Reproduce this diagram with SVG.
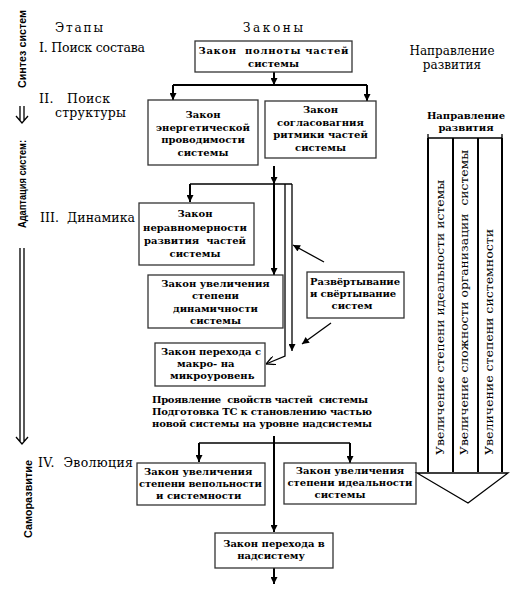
<svg xmlns="http://www.w3.org/2000/svg" width="519" height="590" viewBox="0 0 519 590">
<style>
.box{fill:#fff;stroke:#333;stroke-width:1.3}
.bt{font-family:"DejaVu Serif",serif;font-weight:bold;font-size:10px;text-anchor:middle;fill:#000}
.bs{font-family:"DejaVu Serif",serif;font-weight:bold;font-size:10px;fill:#000}
.st{font-family:"DejaVu Serif",serif;font-size:12.5px;fill:#000}
.hd{font-family:"DejaVu Serif",serif;font-size:12px;fill:#000}
.vs{font-family:"Liberation Sans",Arial,sans-serif;font-weight:bold;font-size:10.5px;fill:#000}
.vt{font-family:"DejaVu Serif",serif;font-size:11.5px;fill:#000}
.c{stroke:#000;stroke-width:2;fill:none}
.t{stroke:#000;stroke-width:1.3;fill:none}
</style>
<defs>
<marker id="ah" viewBox="0 0 10 10" refX="10" refY="5" markerWidth="8" markerHeight="7" markerUnits="userSpaceOnUse" orient="auto"><path d="M0,0 L10,5 L0,10 z" fill="#000"/></marker>
<marker id="oh" viewBox="0 0 10 10" refX="10" refY="5" markerWidth="9" markerHeight="9" markerUnits="userSpaceOnUse" orient="auto"><path d="M0,0 L10,5 L0,10" fill="none" stroke="#000" stroke-width="1.5"/></marker>
</defs>

<g id="side-labels">
<text class="vs" transform="translate(26,88) rotate(-90)" textLength="78" lengthAdjust="spacingAndGlyphs">Синтез систем</text>
<path class="t" d="M20,106 V121 M24,106 V121 M16,116 L22,123 L28,116"/>
<text class="vs" transform="translate(26,228) rotate(-90)" textLength="88" lengthAdjust="spacingAndGlyphs">Адаптация систем:</text>
<path class="t" d="M20,248 V441 M24,248 V441 M16,437 L22,444 L28,437"/>
<text class="vs" transform="translate(32,538) rotate(-90)" textLength="78" lengthAdjust="spacingAndGlyphs">Саморазвитие</text>
</g>

<g id="headers">
<text class="hd" x="55" y="32" textLength="48">Этапы</text>
<text class="hd" x="243" y="32" textLength="60">Законы</text>
<text class="hd" x="452" y="55" text-anchor="middle">Направление</text>
<text class="hd" x="452" y="69" text-anchor="middle">развития</text>
</g>

<g id="stages">
<text class="st" x="39" y="52" textLength="106">I. Поиск состава</text>
<text class="st" x="39" y="103" textLength="71" xml:space="preserve">II.   Поиск</text>
<text class="st" x="55" y="117" textLength="71">структуры</text>
<text class="st" x="40" y="222" textLength="95" xml:space="preserve">III.  Динамика</text>
<text class="st" x="38" y="467" textLength="95" xml:space="preserve">IV.  Эволюция</text>
</g>

<g id="connectors">
<path class="c" d="M274,72 V85" marker-end="url(#ah)"/>
<path class="c" d="M173,85 H367"/>
<path class="c" d="M173,85 V100" marker-end="url(#ah)"/>
<path class="c" d="M367,85 V101" marker-end="url(#ah)"/>
<path class="c" d="M274,166 V184" marker-end="url(#ah)"/>
<path class="t" d="M190,184 H292"/>
<path class="c" d="M190,184 V202" marker-end="url(#ah)"/>
<path class="c" d="M274,184 V275" marker-end="url(#ah)"/>
<path class="t" d="M292,184 V351" marker-end="url(#ah)"/>
<path class="t" d="M285,184 V356 L266,364" marker-end="url(#oh)"/>
<path class="t" d="M324,262 L293,245" marker-end="url(#ah)"/>
<path class="t" d="M331,323 L302,344" marker-end="url(#ah)"/>
<path class="c" d="M274,436 V532" marker-end="url(#ah)"/>
<path class="t" d="M199,443 H350"/>
<path class="c" d="M199,443 V462" marker-end="url(#ah)"/>
<path class="c" d="M350,443 V463" marker-end="url(#ah)"/>
<path class="c" d="M274,568 V584" marker-end="url(#ah)"/>
</g>

<g id="n1">
<rect class="box" x="195" y="41" width="157" height="31"/>
<text class="bt" x="273.5" y="54" textLength="150" xml:space="preserve">Закон  полноты частей</text>
<text class="bt" x="273.5" y="67">системы</text>
</g>
<g id="n2">
<rect class="box" x="148" y="100" width="110" height="65"/>
<text class="bt" x="203" y="118">Закон</text>
<text class="bt" x="203" y="131">энергетической</text>
<text class="bt" x="203" y="143">проводимости</text>
<text class="bt" x="203" y="156">системы</text>
</g>
<g id="n3">
<rect class="box" x="265" y="101" width="111" height="57"/>
<text class="bt" x="320.5" y="113">Закон</text>
<text class="bt" x="320.5" y="126">согласовагния</text>
<text class="bt" x="320.5" y="138">ритмики частей</text>
<text class="bt" x="320.5" y="151">системы</text>
</g>
<g id="n4">
<rect class="box" x="139" y="203" width="115" height="62"/>
<text class="bt" x="195" y="217">Закон</text>
<text class="bt" x="195" y="231">неравномерности</text>
<text class="bt" x="195" y="244" xml:space="preserve">развития  частей</text>
<text class="bt" x="195" y="257">системы</text>
</g>
<g id="n5">
<rect class="box" x="148" y="275" width="135" height="53"/>
<text class="bt" x="215.5" y="287">Закон увеличения</text>
<text class="bt" x="215.5" y="299">степени</text>
<text class="bt" x="215.5" y="312">динамичности</text>
<text class="bt" x="215.5" y="324">системы</text>
</g>
<g id="n-razv">
<rect class="box" x="307" y="272" width="97" height="46"/>
<text class="bs" x="310" y="285" textLength="90">Развёртывание</text>
<text class="bs" x="310" y="297" textLength="86">и свёртывание</text>
<text class="bt" x="352" y="309">систем</text>
</g>
<g id="n6">
<rect class="box" x="155" y="343" width="110" height="43"/>
<text class="bs" x="161" y="355" textLength="100">Закон перехода с</text>
<text class="bs" x="177" y="367">макро- на</text>
<text class="bs" x="170" y="379">микроуровень</text>
</g>
<g id="n-text">
<text class="bs" x="152" y="403" textLength="216" xml:space="preserve">Проявление  свойств частей  системы</text>
<text class="bs" x="152" y="415" textLength="220">Подготовка ТС к становлению частью</text>
<text class="bs" x="152" y="427" textLength="220">новой системы на уровне надсистемы</text>
</g>
<g id="n7">
<rect class="box" x="137" y="463" width="128" height="42"/>
<text class="bs" x="144" y="475">Закон увеличения</text>
<text class="bs" x="139" y="487" textLength="123">степени вепольности</text>
<text class="bs" x="156" y="499">и системности</text>
</g>
<g id="n9">
<rect class="box" x="284" y="463" width="132" height="41"/>
<text class="bt" x="350" y="474">Закон увеличения</text>
<text class="bt" x="350" y="486">степени идеальности</text>
<text class="bt" x="340" y="498">системы</text>
</g>
<g id="n8">
<rect class="box" x="215" y="533" width="118" height="35"/>
<text class="bt" x="274" y="547">Закон перехода в</text>
<text class="bt" x="271" y="559">надсистему</text>
</g>

<g id="direction">
<text class="bt" x="466" y="119">Направление</text>
<text class="bt" x="466" y="131">развития</text>
<path class="t" d="M428,138 H502 M428,134 V140 M502,134 V140"/>
<path stroke="#000" stroke-width="2" fill="none" d="M428,138 V472 M453,138 V472 M478,138 V472 M502,138 V472"/>
<path class="t" d="M417,473 H508 L468,503 Z"/>
<text class="vt" transform="translate(444,455) rotate(-90)" textLength="275" lengthAdjust="spacingAndGlyphs">Увеличение степени идеальности истемы</text>
<text class="vt" transform="translate(468,455) rotate(-90)" textLength="305" lengthAdjust="spacingAndGlyphs" xml:space="preserve">Увеличение сложности организации  системы</text>
<text class="vt" transform="translate(493,455) rotate(-90)" textLength="226" lengthAdjust="spacingAndGlyphs">Увеличение степени системности</text>
</g>
</svg>
